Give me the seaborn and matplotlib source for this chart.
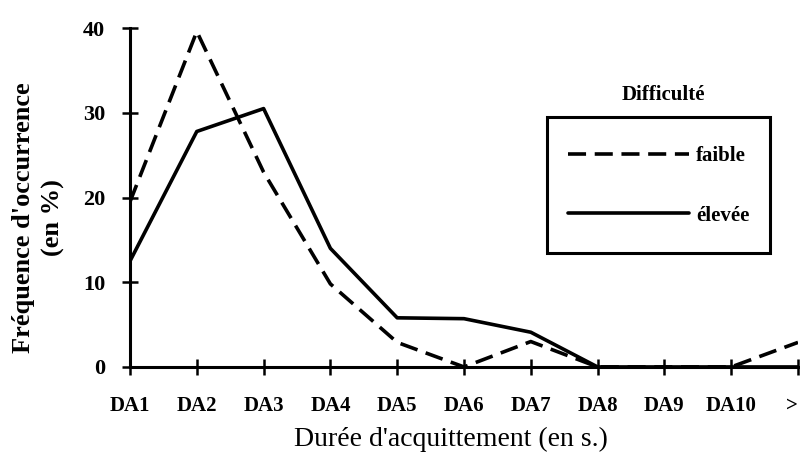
import matplotlib
matplotlib.use("Agg")
import matplotlib.pyplot as plt
from matplotlib.patches import Rectangle
import seaborn as sns
import pandas as pd

categories = ["DA1", "DA2", "DA3", "DA4", "DA5", "DA6", "DA7", "DA8", "DA9", "DA10", ">"]
faible = [19.5, 39.6, 23.0, 9.8, 2.9, 0.0, 3.0, 0.0, 0.0, 0.0, 2.9]
elevee = [12.5, 27.8, 30.5, 14.0, 5.8, 5.7, 4.1, 0.0, 0.0, 0.0, 0.0]
series_names = ["faible", "élevée"]
y_ticks = [0, 10, 20, 30, 40]

rows = []
for name, vals in zip(series_names, [faible, elevee]):
    for i, (cat, v) in enumerate(zip(categories, vals)):
        rows.append({"pos": i, "categorie": cat, "valeur": v, "Difficulté": name})
df = pd.DataFrame(rows)

sns.set_theme(style="white")
plt.rcParams["font.family"] = ["Liberation Serif", "DejaVu Serif"]
for key in ["text.color", "axes.labelcolor", "xtick.color", "ytick.color", "axes.edgecolor"]:
    plt.rcParams[key] = "black"

fig = plt.figure(figsize=(8.0, 4.61), dpi=100)
ax = fig.add_axes([0.1625, 0.204, 0.835, 0.735])

sns.lineplot(
    data=df, x="pos", y="valeur", style="Difficulté",
    style_order=series_names,
    dashes={"faible": (5.0, 2.4), "élevée": ""},
    color="black", linewidth=2.6, ax=ax, legend=True,
)

ax.set_xlim(0, len(categories) - 1)
ax.set_ylim(0, 40)
ax.set_xticks(range(len(categories)))
ax.set_xticklabels(categories, fontsize=15, fontweight="bold")
ax.get_xticklabels()[-1].set_horizontalalignment("right")
ax.set_yticks(y_ticks)
ax.set_yticklabels([str(t) for t in y_ticks], fontsize=16, fontweight="bold")

for side in ["top", "right"]:
    ax.spines[side].set_visible(False)
for side in ["left", "bottom"]:
    ax.spines[side].set_linewidth(2.2)
ax.tick_params(axis="both", which="major", bottom=True, left=True,
               direction="inout", length=11.5, width=1.8)
ax.tick_params(axis="x", pad=15)
ax.tick_params(axis="y", pad=12)

ax.set_xlabel("Durée d'acquittement (en s.)", fontsize=20)
ax.xaxis.label.set_verticalalignment("center")
ax.xaxis.set_label_coords(0.4805, -0.215)

ax.set_ylabel("Fréquence d'occurrence\n(en %)", fontsize=19, fontweight="bold",
              linespacing=1.35)
ax.yaxis.label.set_verticalalignment("center")
ax.yaxis.set_label_coords(-0.137, 0.44)

# Legend: entries without frame, box and title drawn separately
handles, labels = ax.get_legend_handles_labels()
leg = ax.legend(
    handles=handles, labels=labels,
    loc="upper left", bbox_to_anchor=(568 / 800, 1 - 146 / 461),
    bbox_transform=fig.transFigure,
    frameon=False, borderpad=0, borderaxespad=0,
    prop={"size": 15, "weight": "bold"},
    handlelength=5.8, handletextpad=0.35, labelspacing=1.9,
)
for line in leg.get_lines():
    line.set_linewidth(2.6)
fig.patches.append(Rectangle((547 / 800, 1 - 253 / 461), 223 / 800, 136 / 461,
                             transform=fig.transFigure, fill=False,
                             edgecolor="black", linewidth=2.2))
fig.text(663 / 800, 1 - 95 / 461, "Difficulté", ha="center", va="center",
         fontsize=15, fontweight="bold")

fig.savefig("out.png", dpi=100)
